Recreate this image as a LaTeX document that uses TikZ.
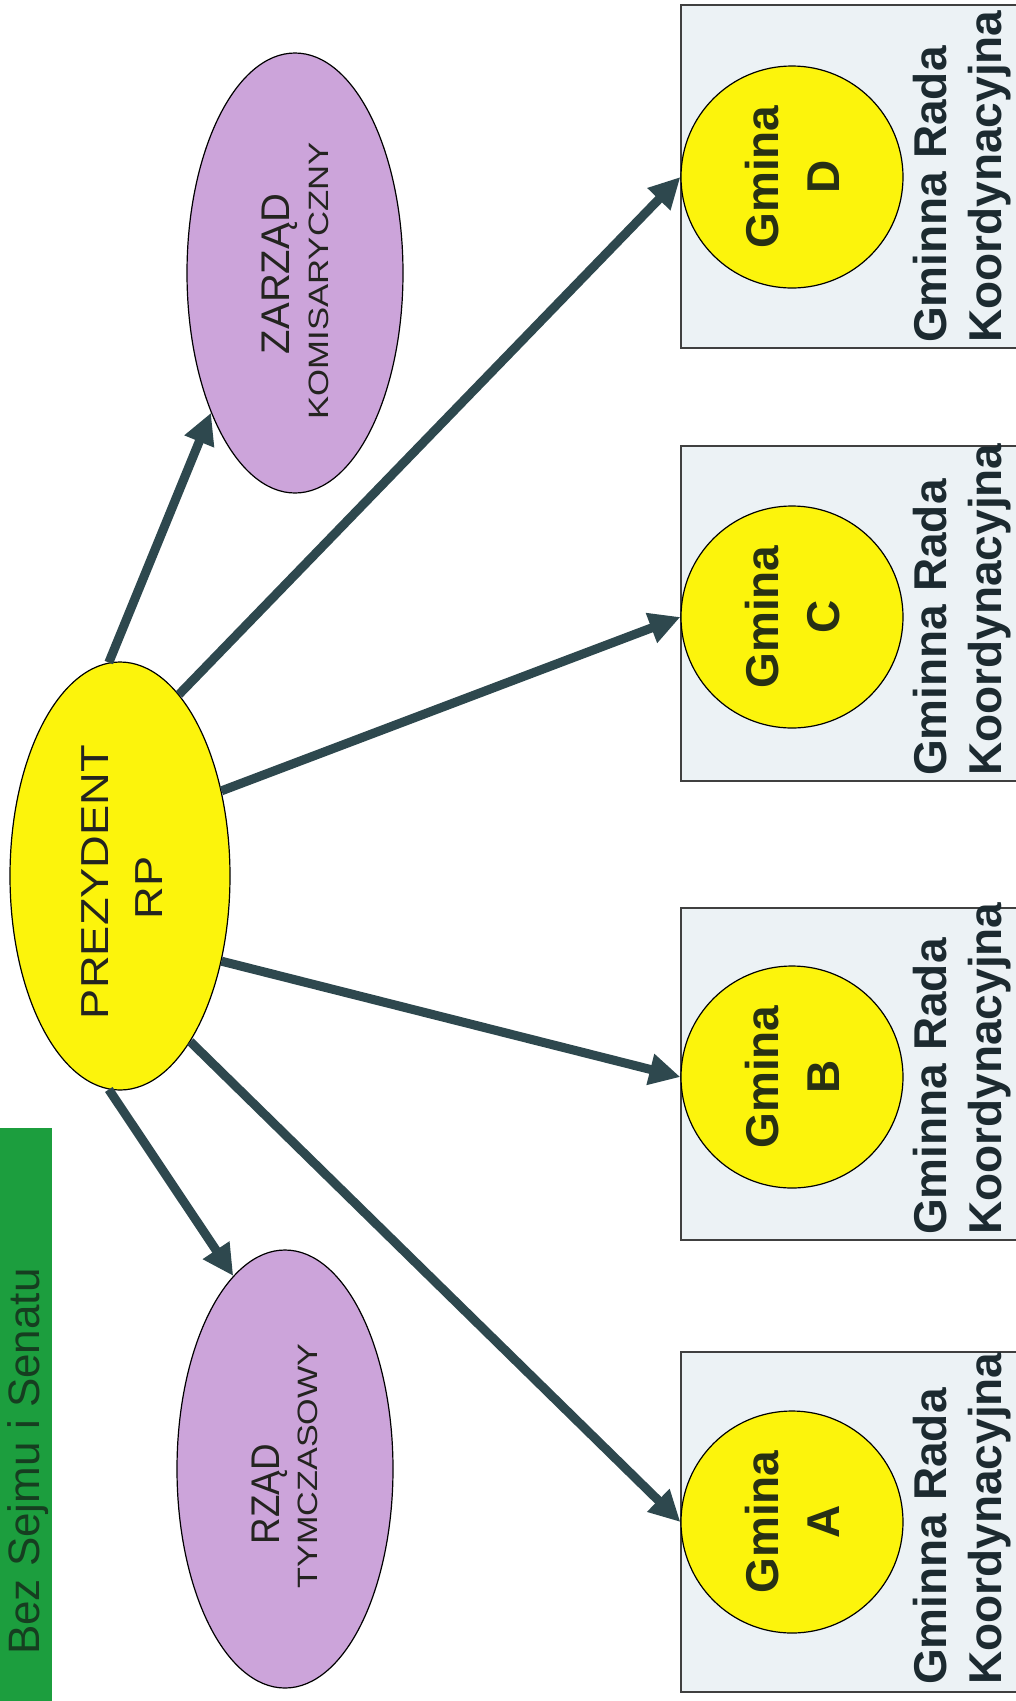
\documentclass[tikz,border=0pt]{standalone}
\usepackage{fontspec}
\setmainfont{Liberation Sans}
\usepackage{graphicx}
\usetikzlibrary{shapes.geometric,arrows.meta}
\definecolor{slate}{RGB}{46,72,78}
\definecolor{yel}{RGB}{252,244,12}
\definecolor{lav}{RGB}{204,164,218}
\definecolor{boxfill}{RGB}{236,242,245}
\definecolor{barcol}{RGB}{28,158,62}
\definecolor{bartext}{RGB}{22,62,32}
\definecolor{txt}{RGB}{36,36,32}
\definecolor{gtxt}{RGB}{40,48,20}
\definecolor{btxt}{RGB}{28,42,48}
\begin{document}
\begin{tikzpicture}[x=1pt,y=-1pt,
  ell/.style={ellipse, draw=black, line width=1.2pt, inner sep=0pt},
  circ/.style={circle, draw=black, line width=1.2pt, fill=yel, minimum size=222pt, inner sep=0pt},
  gbox/.style={rectangle, draw=black!75, line width=1.5pt, fill=boxfill, inner sep=0pt, minimum width=350pt},
  arr/.style={draw=slate, line width=9pt, -{Triangle[length=31pt,width=30pt]}},
  lbl/.style={rotate=90, inner sep=0pt, anchor=base},
  lblL/.style={rotate=90, inner sep=0pt, anchor=base west},
  gfont/.style={font=\fontsize{46}{52}\selectfont\bfseries},
]
\useasboundingbox (0,0) rectangle (1016,1701);
\fill[white] (0,0) rectangle (1016,1701);
\clip (0,0) rectangle (1016,1701);

% green banner
\node[fill=barcol, minimum width=52pt, minimum height=573pt, inner sep=0pt, anchor=north west] (bar) at (0,1128) {};
\node[lblL, text=bartext, font=\fontsize{44}{50}\selectfont] (bartxt) at (39,1655) {Bez Sejmu i Senatu};

% ellipses
\node[ell, fill=yel, minimum width=220pt, minimum height=428pt] (prez) at (120,876) {};
\node[ell, fill=lav, minimum width=216pt, minimum height=440pt] (zarz) at (295,273) {};
\node[ell, fill=lav, minimum width=216pt, minimum height=438pt] (rzad) at (285,1469) {};

\node[lbl, text=txt, font=\fontsize{39}{44}\selectfont] (prezT1) at (108,882) {\scalebox{1.16}[1]{PREZYDENT}};
\node[lbl, text=txt, font=\fontsize{39}{44}\selectfont] (prezT2) at (162,888) {\scalebox{1.16}[1]{RP}};
\node[lbl, text=txt, font=\fontsize{40}{44}\selectfont] (zarzT1) at (289,274) {ZARZĄD};
\node[lbl, text=txt, font=\fontsize{28}{32}\selectfont] (zarzT2) at (328,281) {\scalebox{1.24}[1]{KOMISARYCZNY}};
\node[lbl, text=txt, font=\fontsize{40}{44}\selectfont] (rzadT1) at (279,1494) {\scalebox{0.92}[1]{RZĄD}};
\node[lbl, text=txt, font=\fontsize{28}{32}\selectfont] (rzadT2) at (317,1466) {\scalebox{1.22}[1]{TYMCZASOWY}};

% boxes
\node[gbox, minimum height=340pt] (bA) at (856,1522) {};
\node[gbox, minimum height=332pt] (bB) at (856,1074) {};
\node[gbox, minimum height=335pt] (bC) at (856,613.5) {};
\node[gbox, minimum height=343pt] (bD) at (856,176.5) {};

% circles
\node[circ] (gA) at (792,1522) {};
\node[circ] (gB) at (792,1077) {};
\node[circ] (gC) at (792,617) {};
\node[circ] (gD) at (792,177) {};

\node[lbl, gfont, text=gtxt] (gA1) at (778,1522) {Gmina};
\node[lbl, gfont, text=gtxt] (gA2) at (839,1522) {A};
\node[lbl, gfont, text=gtxt] (gB1) at (778,1077) {Gmina};
\node[lbl, gfont, text=gtxt] (gB2) at (839,1077) {B};
\node[lbl, gfont, text=gtxt] (gC1) at (778,617) {Gmina};
\node[lbl, gfont, text=gtxt] (gC2) at (839,617) {C};
\node[lbl, gfont, text=gtxt] (gD1) at (778,177) {Gmina};
\node[lbl, gfont, text=gtxt] (gD2) at (839,177) {D};

\node[lblL, gfont, text=btxt] (bA1) at (946,1685) {Gminna Rada};
\node[lblL, gfont, text=btxt] (bA2) at (1001,1685) {Koordynacyjna};
\node[lblL, gfont, text=btxt] (bB1) at (946,1235) {Gminna Rada};
\node[lblL, gfont, text=btxt] (bB2) at (1001,1235) {Koordynacyjna};
\node[lblL, gfont, text=btxt] (bC1) at (946,776) {Gminna Rada};
\node[lblL, gfont, text=btxt] (bC2) at (1001,776) {Koordynacyjna};
\node[lblL, gfont, text=btxt] (bD1) at (946,343) {Gminna Rada};
\node[lblL, gfont, text=btxt] (bD2) at (1001,343) {Koordynacyjna};

% arrows
\draw[arr] (prez.93) -- (zarz.239);
\draw[arr] (prez.72) -- (gD.west);
\draw[arr] (prez.40) -- (gC.west);
\draw[arr] (prez.-40) -- (gB.west);
\draw[arr] (prez.-67) -- (gA.west);
\draw[arr] (prez.-93) -- (rzad.105);
\end{tikzpicture}
\end{document}
